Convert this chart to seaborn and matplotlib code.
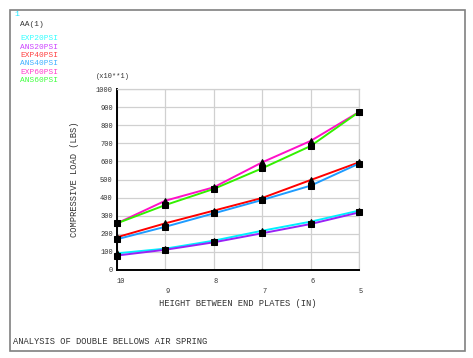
"""Compressive load vs height between end plates for a double bellows air spring."""

import matplotlib
matplotlib.use("Agg")
import matplotlib.pyplot as plt
import pandas as pd
import seaborn as sns

HEIGHTS = [10, 9, 8, 7, 6, 5]

SERIES = ["EXP20PSI", "ANS20PSI", "EXP40PSI", "ANS40PSI", "EXP60PSI", "ANS60PSI"]
EXP20 = [92, 118, 162, 217, 267, 328]
ANS20 = [80, 112, 153, 203, 254, 318]
EXP40 = [181, 258, 328, 398, 497, 595]
ANS40 = [170, 239, 313, 387, 466, 588]
EXP60 = [258, 383, 457, 595, 713, 873]
ANS60 = [258, 359, 448, 562, 685, 873]

LINE_COLORS = ["#00f0ff", "#9a22f5", "#ff0000", "#1e9cff", "#ff10c8", "#33f000"]
TEXT_COLORS = ["#33ffff", "#cc44ff", "#ff4040", "#40b0ff", "#ff40cc", "#40ff40"]

Y_TICKS = list(range(0, 1001, 100))

MONO = ["Liberation Mono", "DejaVu Sans Mono"]


def build_frame() -> pd.DataFrame:
    values = [EXP20, ANS20, EXP40, ANS40, EXP60, ANS60]
    rows = []
    for name, ys in zip(SERIES, values):
        for h, y in zip(HEIGHTS, ys):
            rows.append({"height": h, "load": y, "series": name, "kind": name[:3]})
    return pd.DataFrame(rows)


def main() -> None:
    sns.set_style("white")
    plt.rcParams["font.family"] = MONO

    df = build_frame()
    fig = plt.figure(figsize=(4.73, 3.58), dpi=100)
    W, H = 473, 358
    ax = fig.add_axes([117 / W, (H - 270) / H, (359 - 117) / W, (270 - 89) / H])

    sns.lineplot(
        data=df,
        x="height",
        y="load",
        hue="series",
        hue_order=SERIES,
        palette=LINE_COLORS,
        style="kind",
        markers={"EXP": "^", "ANS": "s"},
        dashes=False,
        markersize=4,
        markerfacecolor="black",
        markeredgecolor="black",
        linewidth=1.4,
        legend=False,
        clip_on=False,
        zorder=3,
        ax=ax,
    )

    ax.set_xlim(10, 5)
    ax.set_ylim(0, 1000)
    ax.set_xticks(HEIGHTS)
    ax.set_xticklabels([str(h) for h in HEIGHTS], fontsize=5, ha="left")
    ax.set_yticks(Y_TICKS)
    ax.set_yticklabels([str(v) for v in Y_TICKS], fontsize=5)
    ax.tick_params(axis="both", length=2, width=0.8, colors="#333333")
    for i, tick in enumerate(ax.xaxis.get_major_ticks()):
        tick.set_pad(4 if i % 2 == 0 else 11)
    ax.tick_params(axis="y", pad=1)

    ax.grid(True, color="#d0d0d0", linewidth=0.9)
    for side in ["top", "right"]:
        ax.spines[side].set_color("#d0d0d0")
        ax.spines[side].set_linewidth(0.9)
    for side in ["left", "bottom"]:
        ax.spines[side].set_color("black")
        ax.spines[side].set_linewidth(1.4)

    ax.set_xlabel("HEIGHT BETWEEN END PLATES (IN)", fontsize=6.3, labelpad=3, color="#333333")
    ax.set_ylabel("COMPRESSIVE LOAD (LBS)", fontsize=6.3, labelpad=12, color="#333333")

    fig.text(96 / W, 1 - 76 / H, "(x10**1)", fontsize=5, va="center", color="#333333")

    # frame around the whole plot
    frame = plt.Rectangle((10 / W, 1 - 351 / H), (465 - 10) / W, (351 - 10) / H,
                          transform=fig.transFigure, fill=False,
                          edgecolor="#808080", linewidth=1.2)
    fig.add_artist(frame)

    fig.text(14 / W, 1 - 14 / H, "1", fontsize=6, color="#22e8ff", va="center")
    fig.text(20 / W, 1 - 24 / H, "AA(1)", fontsize=5.7, color="#333333", va="center")
    for i, (name, color) in enumerate(zip(SERIES, TEXT_COLORS)):
        fig.text(20 / W, 1 - (39 + 8.3 * i) / H, name, fontsize=5.7,
                 color=color, va="center")

    fig.text(13 / W, 1 - 341 / H, "ANALYSIS OF DOUBLE BELLOWS AIR SPRING",
             fontsize=6.3, color="#333333", va="center")

    fig.savefig("out.png", dpi=100)
    plt.close(fig)


if __name__ == "__main__":
    main()
